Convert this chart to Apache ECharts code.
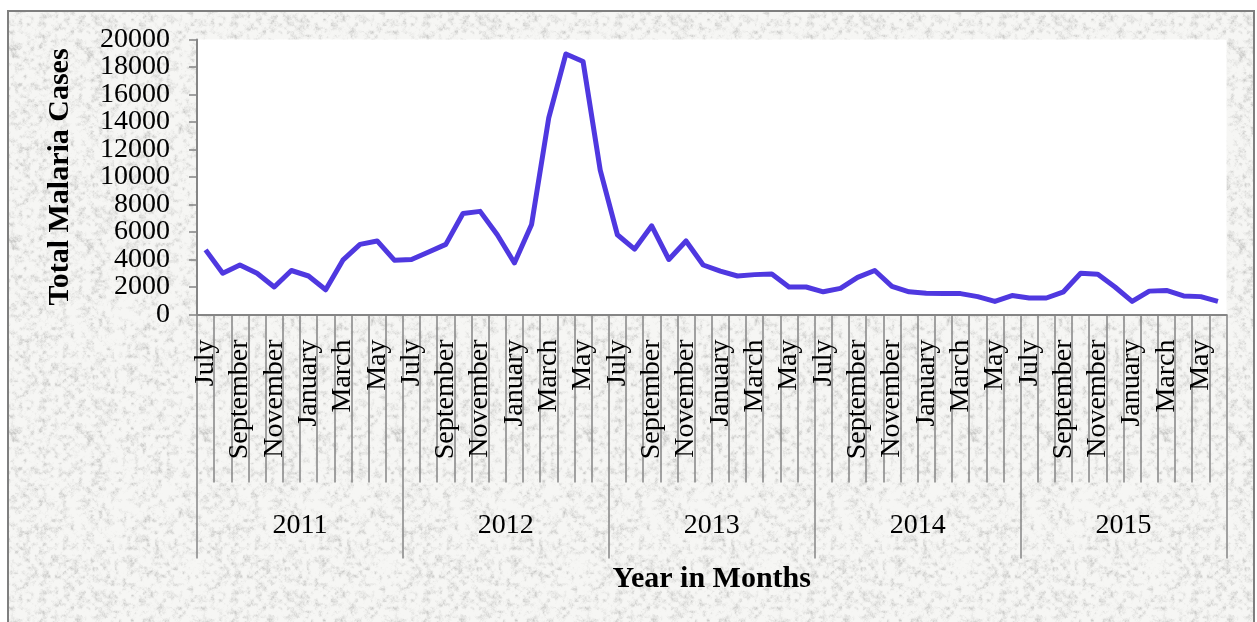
<!DOCTYPE html>
<html>
<head>
<meta charset="utf-8">
<script src="https://cdn.jsdelivr.net/npm/echarts@6/dist/echarts.min.js"></script>
<style>
  html, body { margin: 0; padding: 0; background: #ffffff; }
  #chart { width: 1257px; height: 622px; }
</style>
</head>
<body>
<div id="chart"></div>
<script>
// Monthly malaria cases, July 2011 – June 2016 (reporting years run July to June)
const monthNames = ['July', 'August', 'September', 'October', 'November', 'December',
                    'January', 'February', 'March', 'April', 'May', 'June'];
const years = ['2011', '2012', '2013', '2014', '2015'];
const cases2011 = [4700, 3000, 3600, 3000, 2000, 3200, 2800, 1800, 3950, 5100, 5350, 3950];
const cases2012 = [4000, 4550, 5100, 7350, 7500, 5800, 3750, 6550, 14300, 18950, 18400, 10500];
const cases2013 = [5800, 4750, 6450, 4000, 5350, 3600, 3150, 2800, 2900, 2950, 2000, 2000];
const cases2014 = [1650, 1900, 2700, 3200, 2050, 1650, 1550, 1520, 1520, 1300, 950, 1380];
const cases2015 = [1200, 1200, 1650, 3000, 2930, 2000, 950, 1700, 1750, 1350, 1300, 950];
const yTickLabels = ['0', '2000', '4000', '6000', '8000', '10000',
                     '12000', '14000', '16000', '18000', '20000'];
const yTicks = { min: 0, max: 20000, step: 2000 };

const months = [];
years.forEach(function () { monthNames.forEach(function (m) { months.push(m); }); });
const cases = [].concat(cases2011, cases2012, cases2013, cases2014, cases2015);

// Granite-like speckled fill for the chart frame (deterministic hash noise)
function granite() {
  const size = 192;
  const c = document.createElement('canvas');
  c.width = size; c.height = size;
  const ctx = c.getContext('2d');
  const img = ctx.createImageData(size, size);
  function h(x, y) {
    x = ((x % size) + size) % size; y = ((y % size) + size) % size;
    let n = x * 374761393 + y * 668265263;
    n = (n ^ (n >>> 13)) * 1274126177;
    n = n ^ (n >>> 16);
    return ((n >>> 0) % 1000) / 1000;
  }
  function smooth(x, y, s) {
    const gx = Math.floor(x / s), gy = Math.floor(y / s);
    const fx = x / s - gx, fy = y / s - gy;
    const cells = size / s;
    const a = h(gx % cells, gy % cells), b = h((gx + 1) % cells, gy % cells);
    const c2 = h(gx % cells, (gy + 1) % cells), d = h((gx + 1) % cells, (gy + 1) % cells);
    const u = fx * fx * (3 - 2 * fx), v = fy * fy * (3 - 2 * fy);
    return (a * (1 - u) + b * u) * (1 - v) + (c2 * (1 - u) + d * u) * v;
  }
  for (let y = 0; y < size; y++) {
    for (let x = 0; x < size; x++) {
      const n = 0.55 * smooth(x, y, 4) + 0.3 * smooth(x + 7, y + 3, 2) + 0.15 * h(x * 3 + 1, y * 5 + 2);
      const g = 246 - Math.pow(Math.max(0, n - 0.4) / 0.6, 1.7) * 60;
      const i = (y * size + x) * 4;
      img.data[i] = g; img.data[i + 1] = g; img.data[i + 2] = g - 2; img.data[i + 3] = 255;
    }
  }
  ctx.putImageData(img, 0, 0);
  return c;
}

const serif = "'Liberation Serif', 'Times New Roman', serif";
const axisGray = '#858585';

const chart = echarts.init(document.getElementById('chart'), null, { renderer: 'canvas' });
chart.setOption({
  animation: false,
  backgroundColor: '#ffffff',
  graphic: [{
    type: 'rect',
    z: -100,
    silent: true,
    shape: { x: 8, y: 11, width: 1246, height: 620 },
    style: { fill: { image: granite(), repeat: 'repeat' }, stroke: '#7f7f7f', lineWidth: 2 }
  }],
  grid: {
    left: 197, top: 39.5, right: 30.5, bottom: 307.5,
    show: true, backgroundColor: '#ffffff', borderWidth: 0
  },
  xAxis: [{
    type: 'category',
    data: months,
    boundaryGap: true,
    axisLine: { show: true, lineStyle: { color: axisGray, width: 2 } },
    axisTick: { show: true, interval: 0, length: 168, lineStyle: { color: axisGray, width: 1.5 } },
    axisLabel: {
      show: true, interval: 1, rotate: 90, margin: 25, hideOverlap: false,
      fontFamily: serif, fontSize: 28, lineHeight: 22, color: '#000'
    }
  }, {
    type: 'category',
    data: years,
    position: 'bottom',
    boundaryGap: true,
    axisLine: { show: false },
    axisTick: { show: true, interval: 0, length: 244, lineStyle: { color: axisGray, width: 1.5 } },
    axisLabel: { show: true, interval: 0, margin: 200, hideOverlap: false, fontFamily: serif, fontSize: 28, lineHeight: 22, color: '#000' },
    name: 'Year in Months',
    nameLocation: 'middle',
    nameGap: 250,
    nameTextStyle: { fontFamily: serif, fontSize: 30, fontWeight: 'bold', color: '#000' }
  }],
  yAxis: [{
    // value scale: axis line, outward ticks and the axis title
    type: 'value',
    position: 'left',
    min: yTicks.min, max: yTicks.max, interval: yTicks.step,
    splitLine: { show: false },
    axisLine: { show: true, lineStyle: { color: axisGray, width: 2 } },
    axisTick: { show: true, inside: false, length: 8, lineStyle: { color: axisGray, width: 1.5 } },
    axisLabel: { show: false },
    name: 'Total Malaria Cases',
    nameLocation: 'middle',
    nameGap: 122,
    nameTextStyle: { fontFamily: serif, fontSize: 30, fontWeight: 'bold', color: '#000' }
  }, {
    // tick labels, one per 2000-case step, all kept visible
    type: 'category',
    position: 'left',
    data: yTickLabels,
    boundaryGap: false,
    axisLine: { show: false },
    axisTick: { show: false },
    splitLine: { show: false },
    axisLabel: {
      interval: 0, margin: 27, hideOverlap: false,
      fontFamily: serif, fontSize: 28, lineHeight: 22, color: '#000'
    }
  }],
  series: [{
    type: 'line',
    data: cases,
    xAxisIndex: 0,
    yAxisIndex: 0,
    showSymbol: false,
    symbol: 'none',
    lineStyle: { color: '#4f38e0', width: 5, join: 'round' },
    itemStyle: { color: '#4f38e0' }
  }]
});
</script>
</body>
</html>
